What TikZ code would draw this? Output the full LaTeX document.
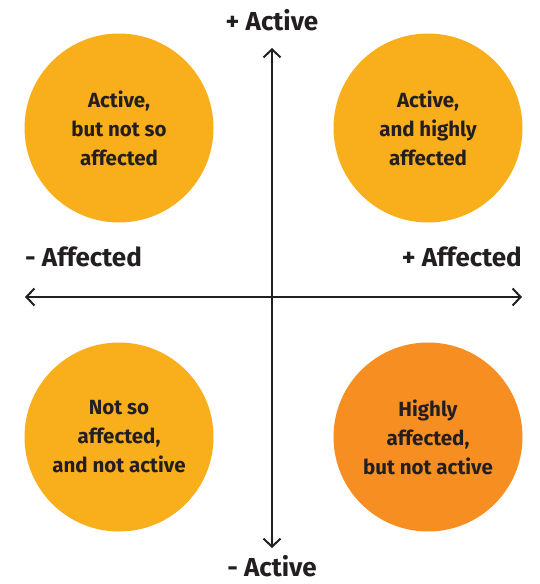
\documentclass[tikz,border=0pt]{standalone}
\usepackage{fontspec}
\setmainfont{Fira Sans}
\usetikzlibrary{arrows.meta}
\definecolor{ylw}{HTML}{F9AE1B}
\definecolor{org}{HTML}{F68E22}
\definecolor{ink}{HTML}{231F20}
\begin{document}
\begin{tikzpicture}[x=1pt,y=-1pt,
  quad/.style={circle,minimum size=189pt,inner sep=0pt,align=center,font=\fontsize{20.5}{29}\selectfont\bfseries,text=ink},
  axlabel/.style={font=\fontsize{26}{28}\selectfont\bfseries,text=ink,inner sep=0pt},
  axis/.style={draw=ink,line width=2pt,{Straight Barb[length=8pt,width=17pt,line width=2pt]}-{Straight Barb[length=8pt,width=17pt,line width=2pt]}}]
\useasboundingbox (0,0) rectangle (540,584);
\node[quad,fill=ylw] (tl) at (119,128) {Active,\\but not so\\affected};
\node[quad,fill=ylw] (tr) at (428,128) {Active,\\and highly\\affected};
\node[quad,fill=ylw] (bl) at (119,437) {Not so\\affected,\\and not active};
\node[quad,fill=org] (br) at (428,437) {Highly\\affected,\\but not active};
\coordinate (top) at (272,48);
\coordinate (bot) at (272,548);
\coordinate (lft) at (25,297);
\coordinate (rgt) at (522,297);
\draw[axis] (top) -- (bot);
\draw[axis] (lft) -- (rgt);
\node[axlabel,anchor=base] (pa) at (272,30) {+ Active};
\node[axlabel,anchor=base] (ma) at (272,576) {- Active};
\node[axlabel,anchor=base west] (mf) at (25,266) {- Affected};
\node[axlabel,anchor=base east] (pf) at (522,266) {+ Affected};
\end{tikzpicture}
\end{document}
